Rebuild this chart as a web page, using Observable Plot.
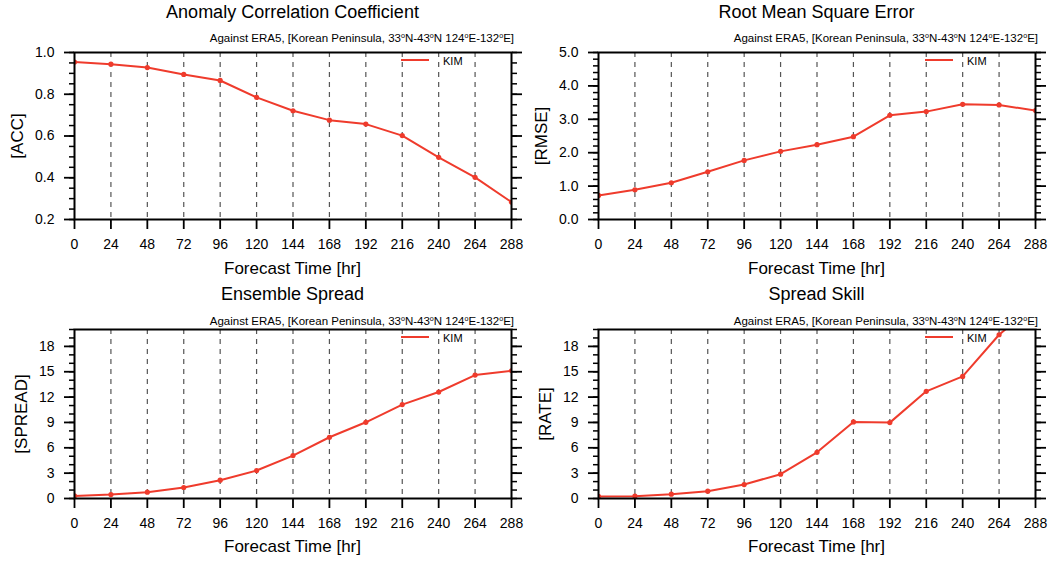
<!DOCTYPE html>
<html><head><meta charset="utf-8">
<script src="https://cdn.jsdelivr.net/npm/d3@7"></script>
<script src="https://cdn.jsdelivr.net/npm/@observablehq/plot@0.6"></script>
<style>
html,body{margin:0;padding:0;background:#fff;}
#wrap{position:relative;width:1056px;height:562px;overflow:hidden;font-family:"Liberation Sans",Arial,Helvetica,sans-serif;color:#000;}
.pan{position:absolute;}
.t{position:absolute;white-space:nowrap;line-height:1;}
.sup{font-size:0.62em;position:relative;top:-0.55em;}
.sw{position:absolute;height:2px;}
</style></head><body><div id="wrap"></div>
<script>
// ---- data ----
const hours = [0,24,48,72,96,120,144,168,192,216,240,264,288];
const acc = [0.954,0.944,0.928,0.895,0.866,0.785,0.721,0.676,0.657,0.602,0.498,0.402,0.283];
const rmse = [0.72,0.89,1.10,1.43,1.77,2.04,2.24,2.48,3.12,3.23,3.45,3.43,3.26];
const spread = [0.31,0.47,0.75,1.30,2.17,3.31,5.08,7.25,9.02,11.11,12.60,14.61,15.12];
const rate = [0.24,0.28,0.51,0.87,1.65,2.88,5.47,9.06,8.98,12.68,14.45,19.38,23.0];
const xTicks = [0,24,48,72,96,120,144,168,192,216,240,264,288];
const gridHours = [24,48,72,96,120,144,168,192,216,240,264];
const accTicks = [0.2,0.4,0.6,0.8,1.0];
const rmseTicks = [0,1,2,3,4,5];
const spreadTicks = [0,3,6,9,12,15,18];
const titles = ["Anomaly Correlation Coefficient","Root Mean Square Error","Ensemble Spread","Spread Skill"];
const yLabels = ["[ACC]","[RMSE]","[SPREAD]","[RATE]"];
const xLabel = "Forecast Time [hr]";
const seriesName = "KIM";
const subtitleHTML = 'Against ERA5, [Korean Peninsula, 33<span class="sup">o</span>N-43<span class="sup">o</span>N 124<span class="sup">o</span>E-132<span class="sup">o</span>E]';

const RED = "#ef3b2c";
const FONT = '"Liberation Sans",Arial,Helvetica,sans-serif';
const minorOf = (lo, hi, step) => d3.range(Math.round((hi - lo) / step) + 1).map(i => +(lo + i * step).toFixed(4));

const panels = [
  {left:0, top:0, w:528, h:280, ml:74, mr:17, mt:52, mb:61, values:acc, domain:[0.2,1], ticks:accTicks, minor:minorOf(0.2,1,0.05), fmt:d3.format(".1f"), titleY:11.5, subY:38.7, xlabY:267.5, ylabX:17},
  {left:528, top:0, w:528, h:280, ml:70, mr:21, mt:52, mb:61, values:rmse, domain:[0,5], ticks:rmseTicks, minor:minorOf(0,5,0.2), fmt:d3.format(".1f"), titleY:11.5, subY:38.7, xlabY:267.5, ylabX:540.5},
  {left:0, top:280, w:528, h:282, ml:74, mr:17, mt:49, mb:64, values:spread, domain:[0,20], ticks:spreadTicks, minor:minorOf(0,20,1), fmt:d3.format("d"), titleY:294, subY:321.7, xlabY:545.8, ylabX:21.3},
  {left:528, top:280, w:528, h:282, ml:70, mr:21, mt:49, mb:64, values:rate, domain:[0,20], ticks:spreadTicks, minor:minorOf(0,20,1), fmt:d3.format("d"), titleY:294, subY:321.7, xlabY:545.8, ylabX:544.7}
];

const wrap = document.getElementById("wrap");
function addText(html, x, y, size, tx, extra) {
  const d = document.createElement("div");
  d.className = "t";
  d.innerHTML = html;
  d.style.left = x + "px";
  d.style.top = y + "px";
  d.style.fontSize = size + "px";
  d.style.transform = tx;
  if (extra) Object.assign(d.style, extra);
  wrap.appendChild(d);
  return d;
}

panels.forEach((cfg, k) => {
  const data = hours.map((h, i) => ({h, v: cfg.values[i]}));
  const chart = Plot.plot({
    width: cfg.w, height: cfg.h,
    marginLeft: cfg.ml, marginRight: cfg.mr, marginTop: cfg.mt, marginBottom: cfg.mb,
    x: {domain: [0, 288]},
    y: {domain: cfg.domain},
    style: {fontFamily: FONT, fontSize: "14px", background: "transparent", color: "#000", overflow: "visible"},
    marks: [
      Plot.gridX(gridHours, {stroke: "#555", strokeOpacity: 1, strokeDasharray: "5,5", strokeWidth: 1.2}),
      Plot.axisY(cfg.minor, {anchor: "left", tickSize: 5, tickFormat: () => "", strokeWidth: 1.5, label: null}),
      Plot.axisY(cfg.minor, {anchor: "right", tickSize: 5, tickFormat: () => "", strokeWidth: 1.5, label: null}),
      Plot.axisY(cfg.ticks, {anchor: "left", tickSize: 10, tickPadding: 10, tickFormat: cfg.fmt, strokeWidth: 1.8, label: null}),
      Plot.axisY(cfg.ticks, {anchor: "right", tickSize: 10, tickFormat: () => "", strokeWidth: 1.8, label: null}),
      Plot.axisX(xTicks, {anchor: "bottom", tickSize: 10, tickPadding: 10, tickFormat: d => String(d), strokeWidth: 1.8, label: null}),
      Plot.line(data, {x: "h", y: "v", stroke: RED, strokeWidth: 2, clip: true}),
      Plot.dot(data, {x: "h", y: "v", r: 2.6, fill: RED, stroke: "none", clip: true}),
      Plot.frame({stroke: "#000", strokeWidth: 2})
    ]
  });
  const holder = document.createElement("div");
  holder.className = "pan";
  holder.style.left = cfg.left + "px";
  holder.style.top = cfg.top + "px";
  holder.appendChild(chart);
  wrap.appendChild(holder);

  const fl = cfg.left + cfg.ml, fr = cfg.left + cfg.w - cfg.mr;
  const ft = cfg.top + cfg.mt, fb = cfg.top + cfg.h - cfg.mb;
  const cx = (fl + fr) / 2;
  addText(titles[k], cx, cfg.titleY, 18, "translate(-50%,-50%)");
  addText(subtitleHTML, fr + 3, cfg.subY, 11.5, "translate(-100%,-50%)");
  addText(xLabel, cx, cfg.xlabY, 17, "translate(-50%,-50%)");
  addText(yLabels[k], cfg.ylabX, (ft + fb) / 2, 17, "translate(-50%,-50%) rotate(-90deg)");
  // legend
  const sw = document.createElement("div");
  sw.className = "sw";
  sw.style.left = (fr - 110) + "px";
  sw.style.width = "28px";
  sw.style.top = (ft + 7) + "px";
  sw.style.background = RED;
  wrap.appendChild(sw);
  addText(seriesName, fr - 68, ft + 8.5, 11, "translate(0,-50%)");
});
</script></body></html>
